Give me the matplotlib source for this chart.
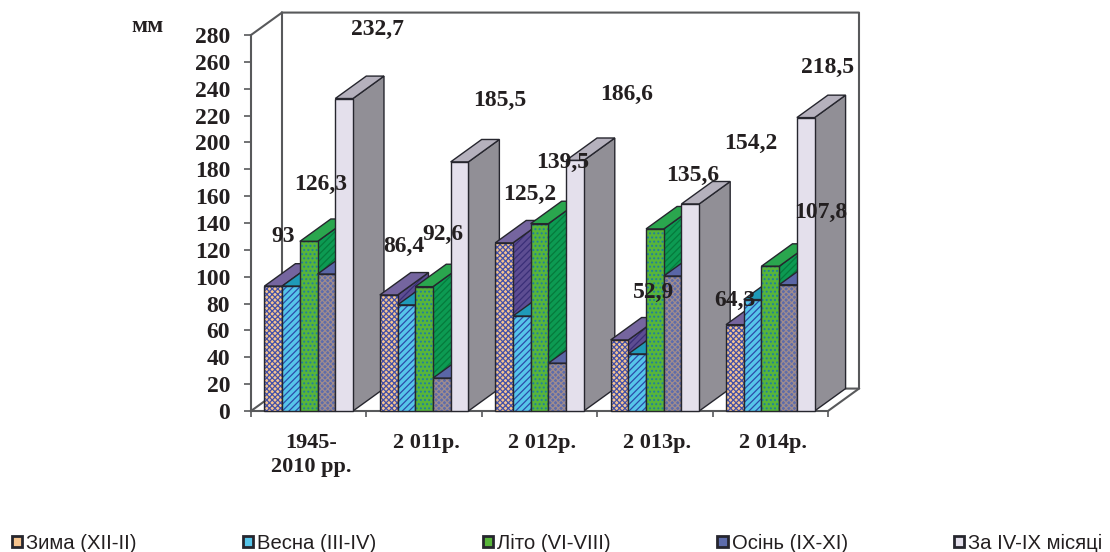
import matplotlib
matplotlib.use('Agg')
import matplotlib.pyplot as plt
from matplotlib.patches import Patch, Polygon

categories = ['1945-\n2010 рр.', '2 011р.', '2 012р.', '2 013р.', '2 014р.']
series_names = ['Зима (XII-II)', 'Весна (III-IV)', 'Літо (VI-VIII)', 'Осінь (IX-XI)', 'За IV-IX місяці']

zima = [93, 86.4, 125.2, 52.9, 64.3]
vesna = [93, 79, 70.7, 42.5, 83]
lito = [126.3, 92.6, 139.5, 135.6, 107.8]
osin = [102, 24.5, 35.6, 100.5, 94]
za_misyaci = [232.7, 185.5, 186.6, 154.2, 218.5]
all_series = [zima, vesna, lito, osin, za_misyaci]

# which series carry a value label, and the label shift in pixels from the bar top
label_shift = {
    0: [(10, 50), (15, 49), (26, 48), (34, 48), (0, 24)],
    2: [(12, 57), (19, 52), (23, 61), (38, 53), (50, 54)],
    4: [(33, 69), (40, 61), (52, 66), (60, 60), (22, 50)],
}

# front, side, top colours, front hatch colour, front hatch, side hatch colour
styles = [
    ('#f6c48e', '#5d4d92', '#75659f', '#4350a8', 'xxxxxx', '#3a2f78'),
    ('#56c5ea', '#1b8fb0', '#1f9ab8', '#2b4ca8', '/////', None),
    ('#58b53a', '#0c9a52', '#2aa64e', '#1f7fa0', '....', '#067a3c'),
    ('#5d6cab', '#3f4c94', '#5a66a6', '#a08c8c', 'xxxxxx', None),
    ('#e4e0ec', '#918f96', '#b5b1bd', None, None, None),
]

dark = '#231f20'
line = '#58595b'
serif = 'Liberation Serif'
sans = 'Liberation Sans'

dx = 0.2686   # depth of the 3d box, categories
dy = 16.7     # depth of the 3d box, mm
bar_w = 0.1535
ymax = 280


def face(ax, pts, color, hatch_color=None, hatch=None, z=2):
    ax.add_patch(Polygon(pts, closed=True, facecolor=color, edgecolor='none', clip_on=False, zorder=z))
    if hatch:
        ax.add_patch(Polygon(pts, closed=True, facecolor='none', edgecolor=hatch_color, hatch=hatch,
                             lw=0, clip_on=False, zorder=z))
    ax.add_patch(Polygon(pts, closed=True, facecolor='none', edgecolor='#26262e', lw=1.0,
                         clip_on=False, zorder=z))


def bar3d(ax, x, h, style, z):
    front, side, top, hc, hatch, side_hc = style
    face(ax, [(x + bar_w, 0), (x + bar_w + dx, dy), (x + bar_w + dx, h + dy), (x + bar_w, h)], side,
         side_hc, '/////' if side_hc else None, z)
    face(ax, [(x, h), (x + dx, h + dy), (x + bar_w + dx, h + dy), (x + bar_w, h)], top, z=z)
    face(ax, [(x, 0), (x + bar_w, 0), (x + bar_w, h), (x, h)], front, hc, hatch, z)


plt.rcParams['hatch.linewidth'] = 0.9
fig = plt.figure(figsize=(11.1, 5.52), dpi=100)
ax = fig.add_axes([251 / 1110, 141 / 552, 577 / 1110, 376 / 552])
ax.set_xlim(0, 5)
ax.set_ylim(0, ymax)

# walls of the box
n = len(categories)
wall = dict(color=line, lw=1.5, clip_on=False, zorder=1)
ax.plot([0, dx, dx, n + dx, n + dx, dx], [ymax, ymax + dy, dy, dy, ymax + dy, ymax + dy], **wall)
ax.plot([0, dx], [0, dy], **wall)
ax.plot([n, n + dx], [0, dy], **wall)

start = (1 - bar_w * 5) / 2
z = 2
for g in range(n):
    for s, vals in enumerate(all_series):
        bar3d(ax, g + start + s * bar_w, vals[g], styles[s], z)
        z += 1

for s, shifts in label_shift.items():
    for g, vals in enumerate(zip(all_series[s], shifts)):
        v, shift = vals
        txt = ('%g' % v).replace('.', ',')
        ax.annotate(txt, (g + start + (s + 0.5) * bar_w, v), xytext=shift, textcoords='offset pixels',
                    ha='center', va='center', fontsize=17, fontweight='bold', family=serif,
                    color=dark, annotation_clip=False, zorder=500)

for side in ['top', 'right']:
    ax.spines[side].set_visible(False)
for side in ['left', 'bottom']:
    ax.spines[side].set_color(line)
    ax.spines[side].set_linewidth(1.5)
    ax.spines[side].set_zorder(1)

ax.set_yticks(range(0, ymax + 1, 20))
ax.set_xticks(range(n + 1))
ax.set_xticklabels([])
ax.set_xticks([g + 0.52 for g in range(n)], categories, minor=True)
ax.tick_params(axis='y', length=5, width=1.2, color=line, pad=10)
ax.tick_params(axis='x', which='major', length=4.5, width=1.2, color=line)
ax.tick_params(axis='x', which='minor', length=0, pad=16)
for t in ax.get_yticklabels():
    t.set(fontsize=17, fontweight='bold', family=serif, color=dark)
for t in ax.get_xticklabels(minor=True):
    t.set(fontsize=16, fontweight='bold', family=serif, color=dark, linespacing=1.25)

fig.text(147 / 1110, 1 - 26 / 552, 'мм', fontsize=17, fontweight='bold', family=serif, color=dark,
         ha='center', va='center')

handles = [Patch(facecolor=st[0], edgecolor='#26262e', lw=2, label=name) for st, name in zip(styles, series_names)]
fig.legend(handles=handles, ncol=5, loc='lower left', bbox_to_anchor=(4 / 1110, -0.016), frameon=False,
           prop={'family': sans, 'size': 14.6}, labelcolor=dark, handlelength=0.5, handleheight=0.5,
           handletextpad=0.2, columnspacing=5.25, borderpad=0.3, borderaxespad=0.1)

fig.savefig('out.png', dpi=100)
